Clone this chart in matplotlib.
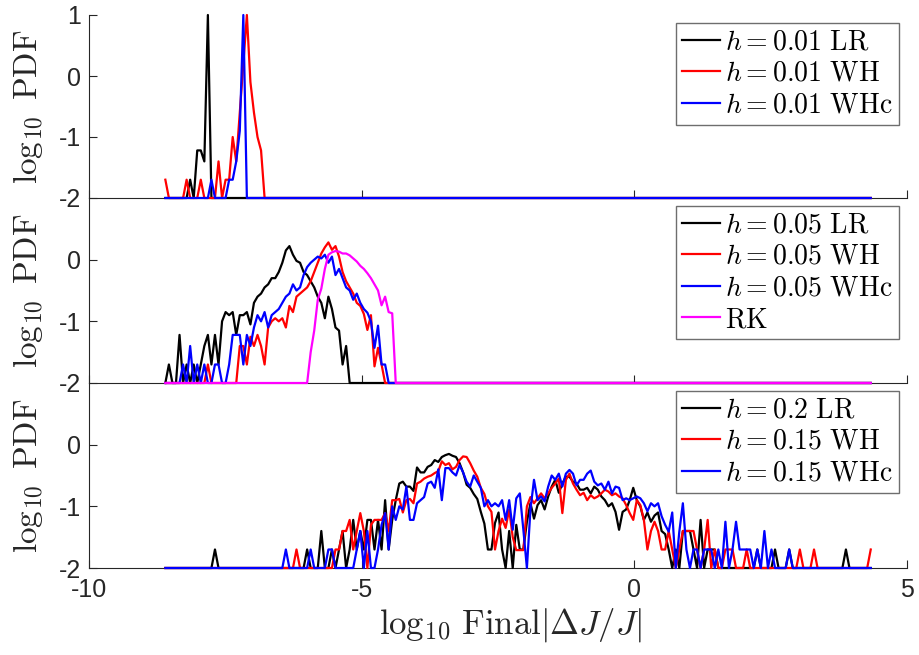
import numpy as np
import matplotlib
matplotlib.use("Agg")
import matplotlib.pyplot as plt

plt.rcParams['font.family'] = ['Liberation Sans', 'DejaVu Sans']
plt.rcParams['mathtext.fontset'] = 'cm'
plt.rcParams['axes.unicode_minus'] = False

# ---------------- data ----------------
# histogram bins of log10 Final|dJ/J|
bin_start = -8.6
bin_width = 0.065
n_bins = 200
empty_level = -2.0  # log10 PDF shown for empty bins

# each series: list of (first bin index, [log10 PDF values in consecutive bins])
# --- top panel (h = 0.01)
lr_001 = [(7, [-1.7, -2, -1.22, -1.22, -1.4, 1.0])]
wh_001 = [(0, [-1.7]), (6, [-1.7]), (10, [-1.7]),
          (15, [-1.4, -2, -1.7, -1.7, -1.0, -1.4, -0.6, 0.2, 1.0, -0.1, -0.6, -1.0, -1.22])]
whc_001 = [(13, [-1.7]), (18, [-1.7, -1.7, -1.4, -0.9, 1.0])]

# --- middle panel (h = 0.05, RK)
lr_005 = [(1, [-1.7, -2, -2, -1.22, -2, -1.7, -2, -1.7, -2, -1.7, -1.4, -1.22, -1.7, -1.22, -1.7,
               -1.0, -0.85, -0.9, -0.85, -1.22, -0.9, -0.9, -0.85, -1.05, -0.7, -0.6, -0.55,
               -0.45, -0.4, -0.3, -0.3, -0.2, -0.05, 0.15, 0.22, 0.08, -0.02, -0.05, -0.2,
               -0.25, -0.35, -0.45, -0.6, -0.7, -0.95, -0.6, -0.8, -1.1, -1.15, -1.7, -1.4])]
wh_005 = [(12, [-1.7]),
          (21, [-1.4, -1.4, -1.7, -1.25, -1.4, -1.22, -1.4, -1.7, -1.1, -1.0, -0.95, -1.0, -0.95,
                -1.1, -0.75, -0.85, -0.6, -0.55, -0.5, -0.45, -0.35, -0.2, -0.05, 0.1, 0.2, 0.28,
                0.16, 0.22, 0.05, -0.2, -0.35, -0.45, -0.55, -0.7, -0.75, -0.88, -1.14, -0.9,
                -1.73, -1.43, -1.7])]
whc_005 = [(5, [-1.7, -2, -1.4, -2, -1.7, -2, -1.7, -2, -2, -1.7, -1.7, -2, -2, -1.7, -1.22, -1.22,
                -1.22, -1.7, -1.22, -1.4, -1.1, -0.9, -1.0, -0.85, -1.1, -0.9, -0.85, -0.8, -0.7,
                -0.6, -0.55, -0.4, -0.5, -0.45, -0.25, -0.12, -0.05, 0.0, 0.05, 0.02, 0.08, -0.05,
                0.05, -0.25, -0.15, -0.3, -0.45, -0.5, -0.65, -0.55, -0.7, -0.8, -0.86, -1.0,
                -1.43, -1.07, -1.7, -1.7])]
rk = [(41, [-1.5, -1.15, -0.65, -0.47, -0.15, 0.08, 0.12, 0.14, 0.13, 0.1, 0.1, 0.07, 0.02,
            -0.03, -0.1, -0.15, -0.22, -0.3, -0.4, -0.5, -0.74, -0.6, -0.85, -0.87])]

# --- bottom panel (h = 0.2 LR, h = 0.15 WH / WHc)
lr_02 = [(14, [-1.7]), (40, [-1.7]), (44, [-1.4]),
         (47, [-1.7, -2, -1.7, -1.4, -2, -1.7, -1.22, -1.7, -1.4, -1.7, -1.22, -1.22, -1.7, -1.22,
               -1.7, -0.9, -1.7, -1.22, -0.9, -0.63, -0.6, -0.68, -0.68, -0.75, -0.37, -0.45, -0.45,
               -0.36, -0.33, -0.25, -0.28, -0.2, -0.17, -0.15, -0.18, -0.2, -0.3, -0.45, -0.65,
               -0.7, -0.8, -0.88, -1.09, -1.28, -1.7, -1.7, -1.27, -1.1, -1.7, -2, -1.4, -2, -1.3,
               -1.7, -1.7, -1.25, -0.95, -1.2, -0.98, -0.9, -1.05, -0.84, -0.68, -0.57, -0.78,
               -0.63, -0.52, -0.52, -0.6, -0.63, -0.73, -0.73, -0.7, -0.79, -0.68, -0.73, -0.84,
               -0.9, -1.0, -0.95, -1.09, -1.38, -1.09, -1.05, -0.9, -0.7, -0.9, -1.0, -1.22, -1.1,
               -1.25, -1.15, -1.1, -1.4, -1.45, -1.7, -2, -1.7, -2, -1.4, -1.4, -1.4, -1.7, -2,
               -1.22, -2, -1.7, -1.7, -1.7]),
         (167, [-1.7]), (172, [-1.7]), (176, [-1.7]), (192, [-1.7])]
wh_015 = [(37, [-1.7]),
          (48, [-1.7, -1.7, -1.4, -1.4, -1.22, -1.7, -1.4, -1.11, -1.4, -2, -1.3, -1.22, -1.22,
                -1.22, -1.11, -1.4, -0.9, -0.9, -0.88, -1.1, -0.9, -0.88, -0.95, -0.63, -0.6,
                -0.55, -0.52, -0.5, -0.46, -0.43, -0.27, -0.33, -0.3, -0.4, -0.36, -0.25, -0.19,
                -0.2, -0.3, -0.42, -0.52, -0.7, -0.8, -1.0, -1.09, -1.7, -1.4, -1.2, -1.35, -1.05,
                -1.5, -1.71, -1.71, -1.71, -1.0, -0.85, -0.95, -0.87, -0.79, -0.87, -0.79, -0.7,
                -0.63, -0.55, -1.11, -0.57, -0.47, -0.63, -0.73, -0.82, -0.78, -0.9, -0.82, -0.87,
                -0.84, -0.79, -0.73, -0.76, -0.82, -0.79, -0.84, -0.87, -0.98, -1.11, -1.22, -0.9,
                -0.98, -1.22, -1.7, -1.4, -1.25, -1.4, -1.7, -1.7, -1.4, -1.7, -2, -1.7, -1.4,
                -1.4, -1.4, -1.4, -1.7, -2, -1.7, -1.22, -2, -1.7, -2, -2, -1.7, -1.7, -1.7]),
          (164, [-1.7]), (179, [-1.7]), (183, [-1.7]), (199, [-1.7])]
whc_015 = [(34, [-1.7]), (41, [-1.7]), (46, [-1.7, -1.7]),
           (54, [-1.7, -1.4, -2, -1.4, -2, -2, -1.7, -1.3, -1.11, -1.7, -1.0, -1.22, -1.0, -1.05,
                 -0.68, -1.22, -1.22, -0.95, -0.9, -0.85, -0.63, -0.6, -0.7, -0.4, -0.9, -0.38,
                 -0.38, -0.45, -0.5, -0.33, -0.45, -0.6, -0.68, -0.5, -0.6, -0.7, -1.0, -0.9, -1.0,
                 -0.95, -1.0, -0.9, -1.22, -0.9, -1.38, -0.87, -0.79, -1.38, -2, -1.05, -0.57,
                 -0.9, -0.84, -0.92, -0.68, -0.5, -0.57, -0.47, -0.68, -0.47, -0.41, -0.47, -0.66,
                 -0.57, -0.57, -0.47, -0.42, -0.6, -0.66, -0.63, -0.73, -0.6, -0.79, -0.68, -0.7,
                 -0.9, -0.87, -0.9, -0.87, -0.84, -0.87, -0.95, -1.08, -0.95, -1.0, -0.95, -1.16,
                 -1.3, -1.41, -1.1, -2, -1.41, -0.95, -1.7, -2, -1.7, -1.7, -2, -1.7, -1.7, -1.7,
                 -2, -1.7, -2, -1.25, -2, -1.7, -1.25, -1.7, -1.7, -1.7, -1.7, -2, -1.7, -2, -1.4,
                 -2, -1.7]),
           (176, [-1.7])]

panel_series = [
    [(lr_001, '#000000', r'$h = 0.01\ \mathrm{LR}$'),
     (wh_001, '#ff0000', r'$h = 0.01\ \mathrm{WH}$'),
     (whc_001, '#0000ff', r'$h = 0.01\ \mathrm{WHc}$')],
    [(lr_005, '#000000', r'$h = 0.05\ \mathrm{LR}$'),
     (wh_005, '#ff0000', r'$h = 0.05\ \mathrm{WH}$'),
     (whc_005, '#0000ff', r'$h = 0.05\ \mathrm{WHc}$'),
     (rk, '#ff00ff', r'$\mathrm{RK}$')],
    [(lr_02, '#000000', r'$h = 0.2\ \mathrm{LR}$'),
     (wh_015, '#ff0000', r'$h = 0.15\ \mathrm{WH}$'),
     (whc_015, '#0000ff', r'$h = 0.15\ \mathrm{WHc}$')],
]
y_ticks = [[-2, -1, 0, 1], [-2, -1, 0], [-2, -1, 0]]
x_ticks = [-10, -5, 0, 5]

x_bins = bin_start + bin_width * np.arange(n_bins)


def build(segments):
    y = np.full(n_bins, empty_level)
    for first, vals in segments:
        y[first:first + len(vals)] = vals
    return y


# ---------------- figure ----------------
W, H = 919, 655
fig = plt.figure(figsize=(W / 100, H / 100), dpi=100)
left = 89 / W
width = (907 - 89) / W
tops = [15, 198, 383]
bottoms = [198, 383, 568]
axc = '#262626'

for i in range(3):
    ax = fig.add_axes([left, 1 - bottoms[i] / H, width, (bottoms[i] - tops[i]) / H])
    for segs, col, lab in panel_series[i]:
        ax.plot(x_bins, build(segs), color=col, lw=1.6, label=lab, zorder=3, clip_on=False)
    ax.set_xlim(-10, 5)
    ax.set_ylim(-2, 1)
    ax.set_xticks(x_ticks)
    ax.set_yticks(y_ticks[i])
    for s in ['top', 'right']:
        ax.spines[s].set_visible(False)
    for s in ['left', 'bottom']:
        ax.spines[s].set_color(axc)
        ax.spines[s].set_linewidth(0.8)
    ax.tick_params(direction='in', length=5.5, width=0.8, color=axc, labelcolor=axc,
                   labelsize=18, top=False, right=False)
    ax.tick_params(axis='y', pad=6)
    ax.tick_params(axis='x', pad=7)
    if i < 2:
        ax.tick_params(axis='x', labelbottom=False)
    ax.patch.set_alpha(0)
    ax.set_ylabel(r'$\log_{10}\ \mathrm{PDF}$', fontsize=24, color=axc)
    ax.yaxis.set_label_coords(-0.054, 0.5)
    leg = ax.legend(loc='upper right', bbox_to_anchor=(0.99, 0.955), borderaxespad=0,
                    fontsize=20, handlelength=1.35, handletextpad=0.2, labelspacing=0.2,
                    borderpad=0.22, fancybox=False, framealpha=1, edgecolor='#6e6e6e')
    leg.get_frame().set_linewidth(1.0)
    if i == 2:
        ax.set_xlabel(r'$\log_{10}\,\mathrm{Final}|\Delta J/J|$', fontsize=25, color=axc)
        ax.xaxis.set_label_coords(0.515, -0.205)

fig.savefig('out.png', dpi=100)
